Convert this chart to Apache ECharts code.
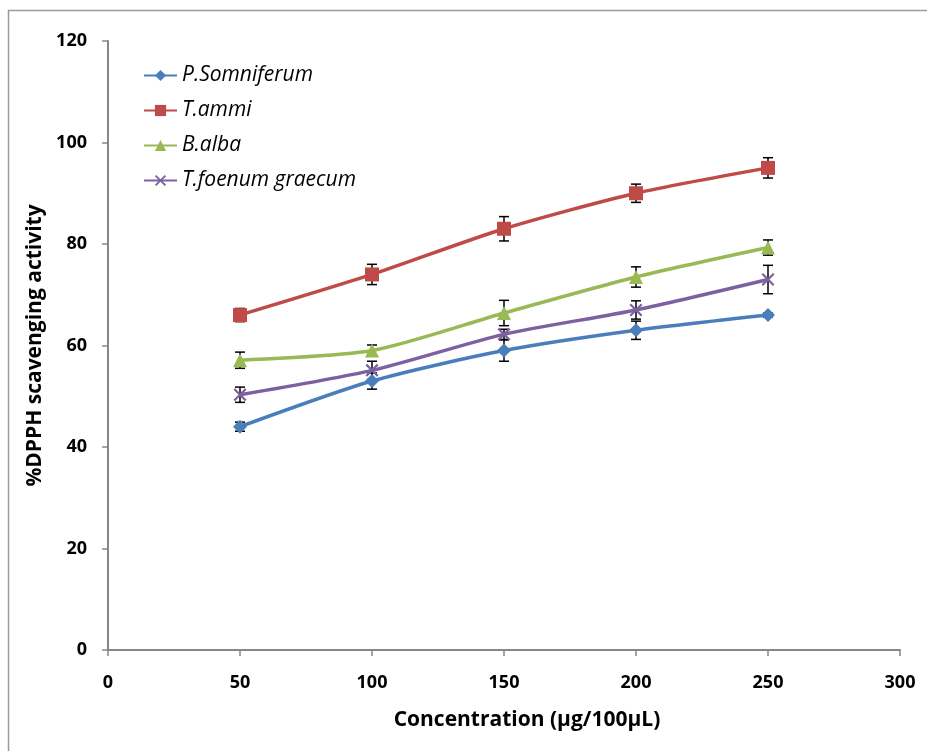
<!DOCTYPE html>
<html>
<head>
<meta charset="utf-8">
<script src="https://cdn.jsdelivr.net/npm/echarts@6/dist/echarts.min.js"></script>
<style>
  html, body { margin: 0; padding: 0; background: #fff; }
  #chart { width: 927px; height: 751px; }
</style>
</head>
<body>
<div id="chart"></div>
<script>
// concentrations (µg/100µL)
const concentrations = [50, 100, 150, 200, 250]
const xTicks = [0, 50, 100, 150, 200, 250, 300]
const yTicks = [0, 20, 40, 60, 80, 100, 120]

// % DPPH scavenging
const somniferum = [44, 53, 59, 63, 66]
const ammi = [66, 74, 83, 90, 95]
const alba = [57.1, 59.0, 66.4, 73.5, 79.3]
const foenum = [50.3, 55.1, 62.2, 67.0, 73.0]

// error (+/-)
const somniferumErr = [0.9, 1.6, 2.1, 1.8, 0.4]
const ammiErr = [1.3, 2.0, 2.4, 1.8, 2.0]
const albaErr = [1.6, 1.1, 2.5, 2.0, 1.5]
const foenumErr = [1.5, 1.8, 1.0, 1.8, 2.8]

const names = ['P.Somniferum', 'T.ammi', 'B.alba', 'T.foenum graecum']
const colors = ['#4A7EBB', '#BE4B48', '#98B954', '#7D60A0']
const crossPath = 'path://M0,1.2L1.2,0L5,3.8L8.8,0L10,1.2L6.2,5L10,8.8L8.8,10L5,6.2L1.2,10L0,8.8L3.8,5Z'
const symbols = ['diamond', 'rect', 'triangle', crossPath]
const symbolSizes = [14, 14, 14, 13]
const values = [somniferum, ammi, alba, foenum]
const errors = [somniferumErr, ammiErr, albaErr, foenumErr]

const chart = echarts.init(document.getElementById('chart'))

const font = '"Open Sans", Lato, sans-serif'

const lineSeries = names.map((name, i) => ({
    name: name,
    type: 'line',
    smooth: 0.25,
    data: concentrations.map((c, j) => [c, values[i][j]]),
    symbol: symbols[i],
    symbolSize: symbolSizes[i],
    itemStyle: { color: colors[i] },
    lineStyle: { color: colors[i], width: 3.5 },
    z: 3
}))

// error bars drawn as custom series
const errorSeries = names.map((name, i) => ({
    type: 'custom',
    name: name + ' err',
    data: concentrations.map((c, j) => [c, values[i][j] - errors[i][j], values[i][j] + errors[i][j]]),
    renderItem: (params, api) => {
        const lo = api.coord([api.value(0), api.value(1)])
        const hi = api.coord([api.value(0), api.value(2)])
        const w = 5
        const st = { stroke: '#000', lineWidth: 1.5 }
        return {
            type: 'group',
            children: [
                { type: 'line', shape: { x1: lo[0], y1: lo[1], x2: hi[0], y2: hi[1] }, style: st },
                { type: 'line', shape: { x1: lo[0] - w, y1: lo[1], x2: lo[0] + w, y2: lo[1] }, style: st },
                { type: 'line', shape: { x1: hi[0] - w, y1: hi[1], x2: hi[0] + w, y2: hi[1] }, style: st }
            ]
        }
    },
    z: 2,
    silent: true
}))

const option = {
    animation: false,
    backgroundColor: '#fff',
    graphic: [{
        type: 'rect',
        shape: { x: 8.5, y: 10.5, width: 940, height: 780 },
        style: { fill: 'none', stroke: '#9a9a9a', lineWidth: 1.5 },
        silent: true
    }],
    grid: { left: 108, right: 27, top: 41, bottom: 101 },
    legend: {
        data: names,
        orient: 'vertical',
        left: 138,
        top: 60,
        itemWidth: 33,
        itemHeight: 14,
        itemGap: 14,
        textStyle: { fontFamily: font, fontStyle: 'italic', fontSize: 21, lineHeight: 20, color: '#000' }
    },
    xAxis: {
        type: 'value',
        min: xTicks[0],
        max: xTicks[xTicks.length - 1],
        interval: 50,
        name: 'Concentration (µg/100µL)',
        nameLocation: 'middle',
        nameGap: 60,
        nameTextStyle: { fontFamily: font, fontWeight: 'bold', fontSize: 21, color: '#000', padding: [0, 0, 0, 46] },
        axisLine: { lineStyle: { color: '#868686', width: 2 } },
        axisTick: { show: true, length: 6, lineStyle: { color: '#868686', width: 1.5 } },
        axisLabel: { fontFamily: font, fontWeight: 'bold', fontSize: 18, color: '#000', margin: 24 },
        splitLine: { show: false }
    },
    yAxis: {
        type: 'value',
        min: yTicks[0],
        max: yTicks[yTicks.length - 1],
        interval: 20,
        name: '%DPPH scavenging activity',
        nameLocation: 'middle',
        nameGap: 61,
        nameTextStyle: { fontFamily: font, fontWeight: 'bold', fontSize: 21, color: '#000' },
        axisLine: { show: true, lineStyle: { color: '#868686', width: 2 } },
        axisTick: { show: true, length: 6, lineStyle: { color: '#868686', width: 1.5 } },
        axisLabel: { fontFamily: font, fontWeight: 'bold', fontSize: 18, color: '#000', margin: 21 },
        splitLine: { show: false }
    },
    series: [...errorSeries, ...lineSeries]
}

chart.setOption(option)
</script>
</body>
</html>
